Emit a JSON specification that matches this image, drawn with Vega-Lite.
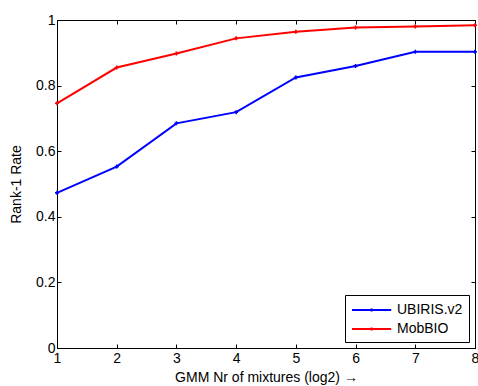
{
  "$schema": "https://vega.github.io/schema/vega-lite/v6.json",
  "width": 418,
  "height": 328,
  "autosize": "none",
  "padding": {"left": 57, "top": 20, "right": 3, "bottom": 38},
  "background": "white",
  "config": {
    "font": "Liberation Sans",
    "view": {"stroke": "black", "strokeWidth": 1},
    "axis": {
      "grid": false,
      "domainColor": "black",
      "tickColor": "black",
      "labelColor": "black",
      "titleColor": "black",
      "labelFontSize": 14,
      "titleFontSize": 14,
      "titleFontWeight": "normal",
      "tickSize": -4,
      "tickWidth": 1
    }
  },
  "data": {
    "values": [
      {"mixtures": 1, "dataset": "UBIRIS.v2", "rate": 0.473},
      {"mixtures": 2, "dataset": "UBIRIS.v2", "rate": 0.553},
      {"mixtures": 3, "dataset": "UBIRIS.v2", "rate": 0.685},
      {"mixtures": 4, "dataset": "UBIRIS.v2", "rate": 0.719},
      {"mixtures": 5, "dataset": "UBIRIS.v2", "rate": 0.825},
      {"mixtures": 6, "dataset": "UBIRIS.v2", "rate": 0.86},
      {"mixtures": 7, "dataset": "UBIRIS.v2", "rate": 0.903},
      {"mixtures": 8, "dataset": "UBIRIS.v2", "rate": 0.903},
      {"mixtures": 1, "dataset": "MobBIO", "rate": 0.746},
      {"mixtures": 2, "dataset": "MobBIO", "rate": 0.855},
      {"mixtures": 3, "dataset": "MobBIO", "rate": 0.898},
      {"mixtures": 4, "dataset": "MobBIO", "rate": 0.944},
      {"mixtures": 5, "dataset": "MobBIO", "rate": 0.964},
      {"mixtures": 6, "dataset": "MobBIO", "rate": 0.977},
      {"mixtures": 7, "dataset": "MobBIO", "rate": 0.98},
      {"mixtures": 8, "dataset": "MobBIO", "rate": 0.984}
    ]
  },
  "layer": [
    {
      "mark": {"type": "line", "strokeWidth": 2, "point": {"shape": "cross", "size": 16, "filled": true}},
      "encoding": {
        "x": {
          "field": "mixtures", "type": "quantitative",
          "scale": {"domain": [1, 8], "nice": false},
          "axis": {"values": [1, 2, 3, 4, 5, 6, 7, 8], "title": "GMM Nr of mixtures (log2) \u2192", "labelPadding": 7, "titlePadding": 5, "labelFlush": false, "labelFontSize": 14, "titleFontSize": 14}
        },
        "y": {
          "field": "rate", "type": "quantitative",
          "scale": {"domain": [0, 1], "nice": false},
          "axis": {"values": [0, 0.2, 0.4, 0.6, 0.8, 1], "format": ".1~f", "title": "Rank-1 Rate", "labelPadding": 6, "titlePadding": 12, "labelFontSize": 14, "titleFontSize": 14}
        },
        "color": {
          "field": "dataset", "type": "nominal",
          "scale": {"domain": ["UBIRIS.v2", "MobBIO"], "range": ["#0000ff", "#ff0000"]},
          "legend": {
            "title": null,
            "orient": "bottom-right",
            "offset": 6,
            "fillColor": "white",
            "strokeColor": "black",
            "padding": 6,
            "symbolType": "M-1,0H3.9M1.45,-0.2V0.2",
            "symbolSize": 256,
            "symbolStrokeWidth": 2,
            "labelFontSize": 14,
            "labelColor": "black",
            "labelOffset": 28,
            "rowPadding": 3
          }
        }
      }
    },
    {
      "mark": {"type": "line", "opacity": 0},
      "encoding": {
        "x": {"field": "mixtures", "type": "quantitative", "axis": {"orient": "top", "values": [1, 2, 3, 4, 5, 6, 7, 8], "labels": false, "title": null}},
        "y": {"field": "rate", "type": "quantitative", "axis": {"orient": "right", "values": [0, 0.2, 0.4, 0.6, 0.8, 1], "labels": false, "title": null}}
      }
    }
  ],
  "resolve": {"axis": {"x": "independent", "y": "independent"}}
}
